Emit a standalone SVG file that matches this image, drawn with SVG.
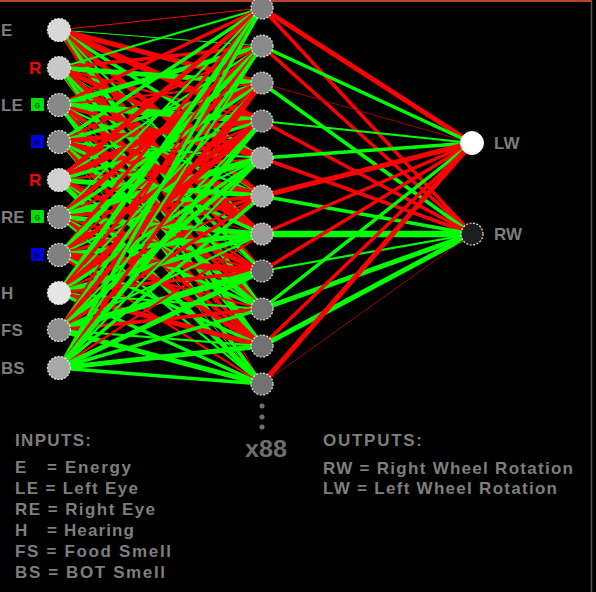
<svg xmlns="http://www.w3.org/2000/svg" width="596" height="592" viewBox="0 0 596 592">
<style>
.r{stroke:#ff0000;fill:none}
.g{stroke:#00ff00;fill:none}
.d{stroke:#a00000;fill:none}
.w1{stroke-width:1}.w2{stroke-width:2.2}.w3{stroke-width:3.5}.w4{stroke-width:5}.w5{stroke-width:6.5}
.node{stroke:#e8e8e8;stroke-width:1.2;stroke-dasharray:2 1.5}
.lbl{font-family:"Liberation Sans",Arial,sans-serif;font-weight:bold;font-size:17px;fill:#7c7c7c}
.leg{font-family:"Liberation Sans",Arial,sans-serif;font-weight:bold;font-size:17px;fill:#7e7e7e}
.sq{font-family:"Liberation Sans",Arial,sans-serif;font-size:7px;font-weight:bold}
</style>
<rect x="0" y="0" width="596" height="592" fill="#000"/>
<line x1="0" y1="1" x2="592" y2="1" stroke="#b8452a" stroke-width="2"/>
<line x1="591.5" y1="0" x2="591.5" y2="592" stroke="#555" stroke-width="1.5"/>
<g id="connectors">
<!-- E -->
<path class="r w1" d="M59 30L262 8"/><path class="g w1" d="M59 30L262 46"/><path class="r w4" d="M59 30L262 83"/><path class="r w5" d="M59 30L262 121"/><path class="g w3" d="M59 30L262 158"/><path class="r w4" d="M59 30L262 196"/><path class="g w2" d="M59 30L262 234"/><path class="r w3" d="M59 30L262 271"/><path class="g w4" d="M59 30L262 309"/><path class="r w2" d="M59 30L262 346"/><path class="r w1" d="M59 30L262 384"/>
<!-- R -->
<path class="g w2" d="M59 68L262 8"/><path class="r w3" d="M59 68L262 46"/><path class="g w4" d="M59 68L262 83"/><path class="r w2" d="M59 68L262 121"/><path class="r w4" d="M59 68L262 158"/><path class="g w1" d="M59 68L262 196"/><path class="r w5" d="M59 68L262 234"/><path class="g w3" d="M59 68L262 271"/><path class="r w2" d="M59 68L262 309"/><path class="g w4" d="M59 68L262 346"/><path class="r w1" d="M59 68L262 384"/>
<!-- LE G -->
<path class="r w3" d="M59 105L262 8"/><path class="g w4" d="M59 105L262 46"/><path class="r w2" d="M59 105L262 83"/><path class="g w5" d="M59 105L262 121"/><path class="r w3" d="M59 105L262 158"/><path class="g w2" d="M59 105L262 196"/><path class="r w4" d="M59 105L262 234"/><path class="g w1" d="M59 105L262 271"/><path class="r w3" d="M59 105L262 309"/><path class="g w2" d="M59 105L262 346"/><path class="g w3" d="M59 105L262 384"/>
<!-- LE B -->
<path class="g w3" d="M59 142L262 8"/><path class="r w2" d="M59 142L262 46"/><path class="g w3" d="M59 142L262 83"/><path class="r w4" d="M59 142L262 121"/><path class="g w2" d="M59 142L262 158"/><path class="r w5" d="M59 142L262 196"/><path class="g w3" d="M59 142L262 234"/><path class="r w2" d="M59 142L262 271"/><path class="g w4" d="M59 142L262 309"/><path class="r w3" d="M59 142L262 346"/><path class="g w1" d="M59 142L262 384"/>
<!-- R -->
<path class="r w4" d="M59 180L262 8"/><path class="g w2" d="M59 180L262 46"/><path class="r w5" d="M59 180L262 83"/><path class="g w3" d="M59 180L262 121"/><path class="r w2" d="M59 180L262 158"/><path class="g w4" d="M59 180L262 196"/><path class="r w1" d="M59 180L262 234"/><path class="r w4" d="M59 180L262 271"/><path class="g w2" d="M59 180L262 309"/><path class="r w3" d="M59 180L262 346"/><path class="g w4" d="M59 180L262 384"/>
<!-- RE G -->
<path class="g w2" d="M59 217L262 8"/><path class="r w4" d="M59 217L262 46"/><path class="g w3" d="M59 217L262 83"/><path class="r w2" d="M59 217L262 121"/><path class="g w5" d="M59 217L262 158"/><path class="r w3" d="M59 217L262 196"/><path class="g w4" d="M59 217L262 234"/><path class="r w2" d="M59 217L262 271"/><path class="g w3" d="M59 217L262 309"/><path class="r w4" d="M59 217L262 346"/><path class="g w2" d="M59 217L262 384"/>
<!-- RE B -->
<path class="r w3" d="M59 255L262 8"/><path class="g w4" d="M59 255L262 46"/><path class="r w2" d="M59 255L262 83"/><path class="r w4" d="M59 255L262 121"/><path class="g w2" d="M59 255L262 158"/><path class="r w3" d="M59 255L262 196"/><path class="g w4" d="M59 255L262 234"/><path class="r w5" d="M59 255L262 271"/><path class="r w2" d="M59 255L262 309"/><path class="g w3" d="M59 255L262 346"/><path class="r w2" d="M59 255L262 384"/>
<!-- H -->
<path class="g w4" d="M59 293L262 8"/><path class="r w3" d="M59 293L262 46"/><path class="g w2" d="M59 293L262 83"/><path class="r w5" d="M59 293L262 121"/><path class="g w3" d="M59 293L262 158"/><path class="r w2" d="M59 293L262 196"/><path class="g w4" d="M59 293L262 234"/><path class="r w3" d="M59 293L262 271"/><path class="g w2" d="M59 293L262 309"/><path class="r w4" d="M59 293L262 346"/><path class="g w3" d="M59 293L262 384"/>
<!-- FS -->
<path class="r w2" d="M59 330L262 8"/><path class="g w3" d="M59 330L262 46"/><path class="r w4" d="M59 330L262 83"/><path class="g w2" d="M59 330L262 121"/><path class="g w4" d="M59 330L262 158"/><path class="r w3" d="M59 330L262 196"/><path class="g w2" d="M59 330L262 234"/><path class="g w5" d="M59 330L262 271"/><path class="r w3" d="M59 330L262 309"/><path class="g w2" d="M59 330L262 346"/><path class="g w4" d="M59 330L262 384"/>
<!-- BS -->
<path class="g w3" d="M59 368L262 8"/><path class="g w2" d="M59 368L262 46"/><path class="r w3" d="M59 368L262 83"/><path class="g w4" d="M59 368L262 121"/><path class="g w2" d="M59 368L262 158"/><path class="g w3" d="M59 368L262 196"/><path class="r w2" d="M59 368L262 234"/><path class="g w4" d="M59 368L262 271"/><path class="g w3" d="M59 368L262 309"/><path class="g w4" d="M59 368L262 346"/><path class="g w3" d="M59 368L262 384"/>
<!-- hidden to outputs -->
<path class="r w4" d="M262 8L472 143"/><path class="r w3" d="M262 8L472 234"/>
<path class="g w3" d="M262 46L472 143"/><path class="r w3" d="M262 46L472 234"/>
<path class="d w1" d="M262 83L472 143"/><path class="g w3" d="M262 83L472 234"/>
<path class="g w2" d="M262 121L472 143"/><path class="r w3" d="M262 121L472 234"/>
<path class="g w3" d="M262 158L472 143"/><path class="r w3" d="M262 158L472 234"/>
<path class="r w4" d="M262 196L472 143"/><path class="g w3" d="M262 196L472 234"/>
<path class="r w3" d="M262 234L472 143"/><path class="g w5" d="M262 234L472 234"/>
<path class="r w3" d="M262 271L472 143"/><path class="g w2" d="M262 271L472 234"/>
<path class="g w3" d="M262 309L472 143"/><path class="g w4" d="M262 309L472 234"/>
<path class="r w3" d="M262 346L472 143"/><path class="g w4" d="M262 346L472 234"/>
<path class="r w4" d="M262 384L472 143"/><path class="d w1" d="M262 384L472 234"/>
</g>
<g id="in-E"><circle class="node" cx="59" cy="30" r="11.5" fill="#d8d8d8"/><text class="lbl" x="1" y="36">E</text></g>
<g id="in-LE-R"><circle class="node" cx="59" cy="68" r="11.5" fill="#c8c8c8"/><text class="lbl" x="29" y="74" style="fill:#ff0000">R</text></g>
<g id="in-LE-G"><circle class="node" cx="59" cy="105" r="11.5" fill="#888"/><text class="lbl" x="1" y="111">LE</text><rect x="31" y="98" width="13" height="13" fill="#00e000"/><text class="sq" x="37.5" y="108" fill="#005000" text-anchor="middle">G</text></g>
<g id="in-LE-B"><circle class="node" cx="59" cy="142" r="11.5" fill="#888"/><rect x="31" y="135" width="13" height="13" fill="#0000d8"/><text class="sq" x="37.5" y="145" fill="#000050" text-anchor="middle">B</text></g>
<g id="in-RE-R"><circle class="node" cx="59" cy="180" r="11.5" fill="#d0d0d0"/><text class="lbl" x="29" y="186" style="fill:#ff0000">R</text></g>
<g id="in-RE-G"><circle class="node" cx="59" cy="217" r="11.5" fill="#888"/><text class="lbl" x="1" y="223">RE</text><rect x="31" y="210" width="13" height="13" fill="#00e000"/><text class="sq" x="37.5" y="220" fill="#005000" text-anchor="middle">G</text></g>
<g id="in-RE-B"><circle class="node" cx="59" cy="255" r="11.5" fill="#808080"/><rect x="31" y="248" width="13" height="13" fill="#0000d8"/><text class="sq" x="37.5" y="258" fill="#000050" text-anchor="middle">B</text></g>
<g id="in-H"><circle class="node" cx="59" cy="293" r="11.5" fill="#e6e6e6"/><text class="lbl" x="1" y="299">H</text></g>
<g id="in-FS"><circle class="node" cx="59" cy="330" r="11.5" fill="#909090"/><text class="lbl" x="1" y="336">FS</text></g>
<g id="in-BS"><circle class="node" cx="59" cy="368" r="11.5" fill="#a8a8a8"/><text class="lbl" x="1" y="374">BS</text></g>
<g id="hid-0"><circle class="node" cx="262" cy="8" r="11" fill="#808080"/></g>
<g id="hid-1"><circle class="node" cx="262" cy="46" r="11" fill="#8a8a8a"/></g>
<g id="hid-2"><circle class="node" cx="262" cy="83" r="11" fill="#888"/></g>
<g id="hid-3"><circle class="node" cx="262" cy="121" r="11" fill="#7c7c7c"/></g>
<g id="hid-4"><circle class="node" cx="262" cy="158" r="11" fill="#a0a0a0"/></g>
<g id="hid-5"><circle class="node" cx="262" cy="196" r="11" fill="#a8a8a8"/></g>
<g id="hid-6"><circle class="node" cx="262" cy="234" r="11" fill="#9c9c9c"/></g>
<g id="hid-7"><circle class="node" cx="262" cy="271" r="11" fill="#686868"/></g>
<g id="hid-8"><circle class="node" cx="262" cy="309" r="11" fill="#747474"/></g>
<g id="hid-9"><circle class="node" cx="262" cy="346" r="11" fill="#727272"/></g>
<g id="hid-10"><circle class="node" cx="262" cy="384" r="11" fill="#727272"/></g>
<g id="more">
<circle cx="262" cy="406" r="2.5" fill="#707070"/><circle cx="262" cy="417" r="2.5" fill="#707070"/><circle cx="262" cy="427" r="2.5" fill="#707070"/>
<text x="245" y="457" font-family="Liberation Sans,Arial,sans-serif" font-weight="bold" font-size="23" fill="#6e6e6e" textLength="42" lengthAdjust="spacingAndGlyphs">x88</text>
</g>
<g id="out-LW"><circle cx="472" cy="143" r="11.5" fill="#fff" stroke="#f0f0f0"/><text class="lbl" x="494" y="149">LW</text></g>
<g id="out-RW"><circle class="node" cx="472" cy="234" r="11" fill="#1e1e1e" stroke="#c8c8c8"/><text class="lbl" x="494" y="240">RW</text></g>
<g id="legend-inputs" class="leg">
<text x="15" y="446" textLength="76" lengthAdjust="spacing">INPUTS:</text>
<text x="15" y="473">E</text><text x="47" y="473" textLength="84" lengthAdjust="spacing">= Energy</text>
<text x="15" y="494" textLength="123" lengthAdjust="spacing">LE = Left Eye</text>
<text x="15" y="515" textLength="140" lengthAdjust="spacing">RE = Right Eye</text>
<text x="15" y="536">H</text><text x="47" y="536" textLength="87" lengthAdjust="spacing">= Hearing</text>
<text x="15" y="557" textLength="156" lengthAdjust="spacing">FS = Food Smell</text>
<text x="15" y="578" textLength="150" lengthAdjust="spacing">BS = BOT Smell</text>
</g>
<g id="legend-outputs" class="leg">
<text x="323" y="446" textLength="99" lengthAdjust="spacing">OUTPUTS:</text>
<text x="323" y="474" textLength="250" lengthAdjust="spacing">RW = Right Wheel Rotation</text>
<text x="323" y="494" textLength="234" lengthAdjust="spacing">LW = Left Wheel Rotation</text>
</g>
</svg>
